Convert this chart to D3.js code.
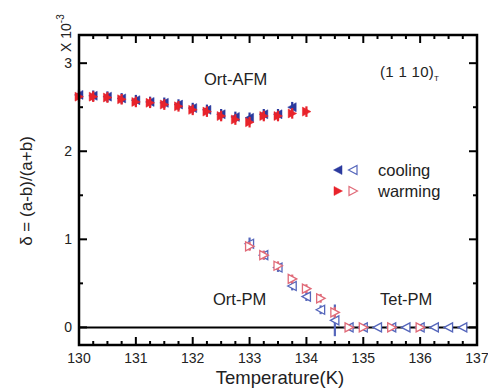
<!DOCTYPE html>
<html>
<head>
<meta charset="utf-8">
<script src="https://cdn.jsdelivr.net/npm/d3@7"></script>
<style>
  body { margin: 0; background: #fff; }
  text { font-family: "Liberation Sans", Arial, sans-serif; fill: #222; }
</style>
</head>
<body>
<div id="chart"></div>
<script>
// data (delta in units of 1e-3)
var afmCoolT = [130, 130.25, 130.5, 130.75, 131, 131.25, 131.5, 131.75, 132, 132.25, 132.5, 132.75, 133, 133.25, 133.5, 133.75];
var afmCoolV = [2.64, 2.63, 2.62, 2.60, 2.58, 2.56, 2.55, 2.53, 2.49, 2.47, 2.42, 2.39, 2.38, 2.42, 2.42, 2.50];
var afmWarmT = [130, 130.25, 130.5, 130.75, 131, 131.25, 131.5, 131.75, 132, 132.25, 132.5, 132.75, 133, 133.25, 133.5, 133.75, 134];
var afmWarmV = [2.62, 2.62, 2.61, 2.59, 2.56, 2.55, 2.53, 2.51, 2.47, 2.45, 2.40, 2.36, 2.33, 2.40, 2.40, 2.43, 2.45];

var pmCoolT = [133, 133.25, 133.5, 133.75, 134, 134.25, 134.5, 134.75, 135, 135.25, 135.5, 135.75, 136, 136.25, 136.5, 136.75];
var pmCoolV = [0.95, 0.82, 0.68, 0.47, 0.35, 0.20, 0.08, 0, 0, 0, 0, 0, 0, 0, 0, 0];
var pmCoolE = [0.07, 0.05, 0.05, 0.05, 0.05, 0.05, 0.18, 0, 0, 0, 0, 0, 0, 0, 0, 0];
var pmWarmT = [133, 133.25, 133.5, 133.75, 134, 134.25, 134.5, 134.75, 135, 135.5, 136];
var pmWarmV = [0.92, 0.82, 0.70, 0.55, 0.44, 0.33, 0.17, 0, 0, 0, 0];
var pmWarmE = [0.05, 0.05, 0.05, 0.05, 0.05, 0.05, 0.06, 0, 0, 0, 0];

var xTicks = [130, 131, 132, 133, 134, 135, 136, 137];
var yTicks = [0, 1, 2, 3];

var W = 488, H = 388;
var m = { left: 79, right: 11, top: 35, bottom: 43 };
var blue = "#2b3a9e", red = "#e8232b";
var blueOpen = "#5566bb", redOpen = "#e06a78";

var svg = d3.select("#chart").append("svg").attr("width", W).attr("height", H);

var x = d3.scaleLinear().domain([130, 137]).range([m.left, W - m.right]);
var y = d3.scaleLinear().domain([-0.2, 3.32]).range([H - m.bottom, m.top]);

var leftTri = "M-4.5,0L4,-4.5L4,4.5Z";
var rightTri = "M4.5,0L-4,-4.5L-4,4.5Z";

// zero line
svg.append("line")
  .attr("x1", x(130)).attr("x2", x(137))
  .attr("y1", y(0)).attr("y2", y(0))
  .attr("stroke", "#000").attr("stroke-width", 2);

function drawSet(T, V, E, color, path, filled) {
  var g = svg.append("g");
  T.forEach(function(t, i) {
    var e = E ? E[i] : 0.06;
    if (e > 0) {
      g.append("line")
        .attr("x1", x(t)).attr("x2", x(t))
        .attr("y1", y(V[i] - e)).attr("y2", y(V[i] + e))
        .attr("stroke", color).attr("stroke-width", 2.2);
    }
    g.append("path")
      .attr("d", path)
      .attr("transform", "translate(" + x(t) + "," + y(V[i]) + ")")
      .attr("fill", filled ? color : "#fff")
      .attr("stroke", color)
      .attr("stroke-width", filled ? 0.5 : 1.3);
  });
}

drawSet(afmCoolT, afmCoolV, null, blue, leftTri, true);
drawSet(afmWarmT, afmWarmV, null, red, rightTri, true);
drawSet(pmCoolT, pmCoolV, pmCoolE, blueOpen, leftTri, false);
drawSet(pmWarmT, pmWarmV, pmWarmE, redOpen, rightTri, false);

// frame
svg.append("rect")
  .attr("x", m.left).attr("y", m.top)
  .attr("width", W - m.left - m.right).attr("height", H - m.top - m.bottom)
  .attr("fill", "none").attr("stroke", "#000").attr("stroke-width", 2.5);

// ticks, all pointing inward
var xMinor = d3.range(130, 137.001, 0.25);
var yMinor = d3.range(0, 3.01, 0.5);
var tk = svg.append("g").attr("stroke", "#000").attr("stroke-width", 2);
xMinor.forEach(function(t) {
  var len = Number.isInteger(t) ? 8 : 4;
  tk.append("line").attr("x1", x(t)).attr("x2", x(t)).attr("y1", y.range()[0]).attr("y2", y.range()[0] - len);
  tk.append("line").attr("x1", x(t)).attr("x2", x(t)).attr("y1", y.range()[1]).attr("y2", y.range()[1] + len);
});
yMinor.forEach(function(v) {
  var len = Number.isInteger(v) ? 8 : 4;
  tk.append("line").attr("x1", x.range()[0]).attr("x2", x.range()[0] + len).attr("y1", y(v)).attr("y2", y(v));
  tk.append("line").attr("x1", x.range()[1]).attr("x2", x.range()[1] - len).attr("y1", y(v)).attr("y2", y(v));
});

// tick labels
svg.append("g").selectAll("text").data(xTicks).enter().append("text")
  .attr("x", function(d) { return x(d); }).attr("y", H - m.bottom + 18)
  .attr("text-anchor", "middle").attr("font-size", 14).text(function(d) { return d; });
svg.append("g").selectAll("text").data(yTicks).enter().append("text")
  .attr("x", m.left - 7).attr("y", function(d) { return y(d) + 5; })
  .attr("text-anchor", "end").attr("font-size", 14).text(function(d) { return d; });

// axis titles
svg.append("text").attr("x", 280).attr("y", 384).attr("text-anchor", "middle")
  .attr("font-size", 18.5).text("Temperature(K)");
svg.append("text").attr("transform", "translate(32,191) rotate(-90)").attr("text-anchor", "middle")
  .attr("font-size", 17).text("δ = (a-b)/(a+b)");
var mult = svg.append("text").attr("transform", "translate(71,52) rotate(-90)").attr("font-size", 14);
mult.append("tspan").text("X 10");
mult.append("tspan").attr("dy", -7).attr("font-size", 10).text("-3");

// annotations
svg.append("text").attr("x", 204).attr("y", 85).attr("font-size", 16.5).text("Ort-AFM");
svg.append("text").attr("x", 213).attr("y", 305).attr("font-size", 16.5).text("Ort-PM");
svg.append("text").attr("x", 380).attr("y", 305).attr("font-size", 16.5).text("Tet-PM");
var lbl = svg.append("text").attr("x", 380).attr("y", 77).attr("font-size", 15).attr("letter-spacing", 0.3);
lbl.append("tspan").text("(1 1 10)");
lbl.append("tspan").attr("dy", 4).attr("font-size", 8).text("T");

// legend
var legend = [
  { name: "cooling", color: blue, open: blueOpen, path: leftTri, y: 170 },
  { name: "warming", color: red, open: redOpen, path: rightTri, y: 191 }
];
legend.forEach(function(d) {
  svg.append("path").attr("d", d.path).attr("transform", "translate(338," + d.y + ")")
    .attr("fill", d.color).attr("stroke", d.color).attr("stroke-width", 0.5);
  svg.append("path").attr("d", d.path).attr("transform", "translate(353," + d.y + ")")
    .attr("fill", "#fff").attr("stroke", d.open).attr("stroke-width", 1.2);
  svg.append("text").attr("x", 378).attr("y", d.y + 6).attr("font-size", 16.5).text(d.name);
});
</script>
</body>
</html>
